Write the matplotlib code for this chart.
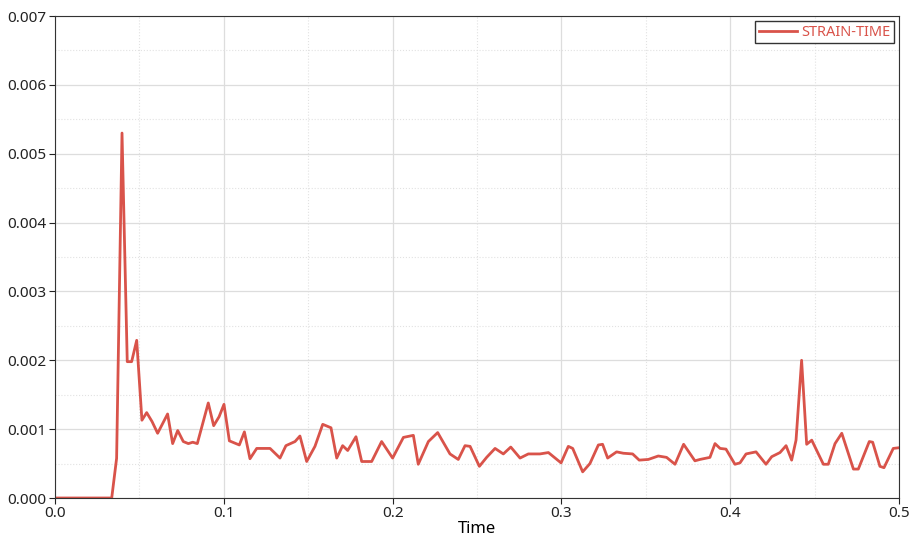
import numpy as np
from matplotlib import pyplot as plt
from matplotlib.ticker import MultipleLocator

plt.rcParams['font.family'] = ['Noto Sans', 'DejaVu Sans']

# Données
temps = [0.0, 0.0336, 0.0365, 0.0397, 0.0428, 0.0454, 0.0484, 0.0515, 0.0543, 0.0575,
         0.0608, 0.0667, 0.0697, 0.0727, 0.0760, 0.0790, 0.0816, 0.0843, 0.0908, 0.0940,
         0.0972, 0.1001, 0.1033, 0.1092, 0.1122, 0.1155, 0.1195, 0.1274, 0.1333, 0.1368,
         0.1422, 0.1451, 0.1491, 0.1540, 0.1586, 0.1635, 0.1669, 0.1704, 0.1734, 0.1783,
         0.1817, 0.1876, 0.1935, 0.2000, 0.2064, 0.2123, 0.2152, 0.2212, 0.2267, 0.2340,
         0.2389, 0.2429, 0.2459, 0.2514, 0.2557, 0.2607, 0.2656, 0.2700, 0.2755, 0.2804,
         0.2873, 0.2923, 0.2998, 0.3041, 0.3067, 0.3126, 0.3169, 0.3219, 0.3244, 0.3274,
         0.3327, 0.3367, 0.3422, 0.3461, 0.3515, 0.3574, 0.3623, 0.3673, 0.3724, 0.3791,
         0.3821, 0.3880, 0.3910, 0.3940, 0.3975, 0.4028, 0.4058, 0.4094, 0.4153, 0.4212,
         0.4246, 0.4295, 0.4331, 0.4364, 0.4390, 0.4423, 0.4453, 0.4483, 0.4552, 0.4581,
         0.4621, 0.4661, 0.4730, 0.4759, 0.4824, 0.4844, 0.4887, 0.4911, 0.4966, 0.5000]
deformation = [0.0, 0.0, 0.000577, 0.0053, 0.00198, 0.00198, 0.00229, 0.00113, 0.00124, 0.00111,
               0.00094, 0.00122, 0.00079, 0.00098, 0.00082, 0.00079, 0.00081, 0.00079, 0.00138, 0.00105,
               0.00118, 0.00136, 0.00083, 0.00077, 0.00096, 0.00057, 0.00072, 0.00072, 0.00058, 0.00076,
               0.00082, 0.00090, 0.00053, 0.00075, 0.00107, 0.00102, 0.00058, 0.00076, 0.00069, 0.00089,
               0.00053, 0.00053, 0.00082, 0.00058, 0.00088, 0.00091, 0.00049, 0.00082, 0.00095, 0.00064,
               0.00056, 0.00076, 0.00075, 0.00046, 0.00059, 0.00072, 0.00064, 0.00074, 0.00058, 0.00064,
               0.00064, 0.00066, 0.00051, 0.00075, 0.00072, 0.00038, 0.00050, 0.00077, 0.00078, 0.00058,
               0.00067, 0.00065, 0.00064, 0.00055, 0.00056, 0.00061, 0.00059, 0.00049, 0.00078, 0.00054,
               0.00056, 0.00059, 0.00079, 0.00072, 0.00071, 0.00049, 0.00051, 0.00064, 0.00067, 0.00049,
               0.00060, 0.00066, 0.00076, 0.00055, 0.00084, 0.00200, 0.00078, 0.00084, 0.00049, 0.00049,
               0.00079, 0.00094, 0.00042, 0.00042, 0.00082, 0.00081, 0.00046, 0.00044, 0.00072, 0.00073]

COULEUR = "#d9534a"

fig = plt.figure(figsize=(9.15, 5.37), dpi=100)
ax = fig.add_axes([55 / 915, 1 - 498 / 537, 844 / 915, 482 / 537])

ax.plot(temps, deformation, color=COULEUR, linewidth=2.0, label="STRAIN-TIME")

ax.set_xlim(0, 0.5)
ax.set_ylim(0, 0.007)
ax.xaxis.set_major_locator(MultipleLocator(0.1))
ax.xaxis.set_minor_locator(MultipleLocator(0.05))
ax.yaxis.set_major_locator(MultipleLocator(0.001))
ax.yaxis.set_minor_locator(MultipleLocator(0.0005))
ax.xaxis.set_major_formatter(plt.FuncFormatter(lambda v, p: f"{v:.1f}"))
ax.yaxis.set_major_formatter(plt.FuncFormatter(lambda v, p: f"{v:.3f}"))

ax.grid(True, which="major", color="#dddddd", linewidth=0.9)
ax.grid(True, which="minor", color="#e2e2e2", linestyle=":", linewidth=0.8)
ax.set_axisbelow(True)
ax.tick_params(which="minor", length=0)
ax.tick_params(which="major", length=4, pad=2, labelsize=11, colors="#222222")
for s in ax.spines.values():
    s.set_color("#333333")

ax.set_xlabel("Time", fontsize=12, labelpad=0)

leg = ax.legend(loc="upper right", fontsize=10.5, fancybox=False, framealpha=1,
                edgecolor="#333333", handlelength=2.6, handletextpad=0.3,
                borderpad=0.25, borderaxespad=0.35)
for t in leg.get_texts():
    t.set_color(COULEUR)

fig.savefig("out.png", dpi=100)
